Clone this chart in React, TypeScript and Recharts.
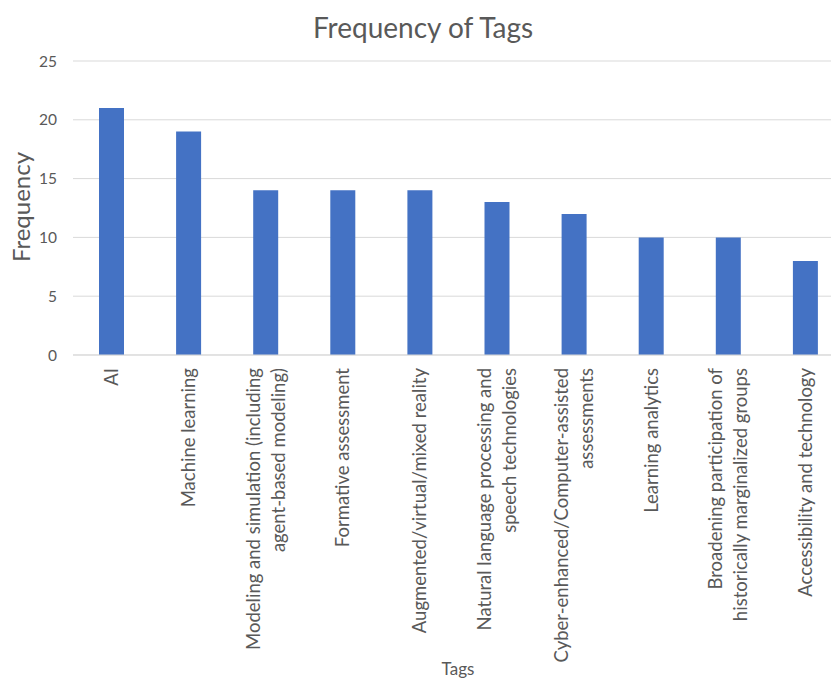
import React from 'react';
import { BarChart, Bar, XAxis, YAxis, CartesianGrid } from 'recharts';

const categories = [
  'AI',
  'Machine learning',
  'Modeling and simulation (including agent-based modeling)',
  'Formative assessment',
  'Augmented/virtual/mixed reality',
  'Natural language processing and speech technologies',
  'Cyber-enhanced/Computer-assisted assessments',
  'Learning analytics',
  'Broadening participation of historically marginalized groups',
  'Accessibility and technology',
];

const labelLines: string[][] = [
  ['AI'],
  ['Machine learning'],
  ['Modeling and simulation (including', 'agent-based modeling)'],
  ['Formative assessment'],
  ['Augmented/virtual/mixed reality'],
  ['Natural language processing and', 'speech technologies'],
  ['Cyber-enhanced/Computer-assisted', 'assessments'],
  ['Learning analytics'],
  ['Broadening participation of', 'historically marginalized groups'],
  ['Accessibility and technology'],
];

const frequencies = [21, 19, 14, 14, 14, 13, 12, 10, 10, 8];
const yTicks = [0, 5, 10, 15, 20, 25];

const data = categories.map((c, i) => ({ tag: c, freq: frequencies[i] }));

const FONT = 'Lato, "Open Sans", sans-serif';
const TEXT = '#595959';

const TagTick = (props: any) => {
  const { x, y, payload } = props;
  const lines = labelLines[payload.index] || [String(payload.value)];
  const lh = 25;
  return (
    <g transform={`translate(${x},${y})`}>
      <text transform="rotate(-90)" textAnchor="end" fill={TEXT} fontSize={18.5} fontFamily={FONT}>
        {lines.map((l, i) => (
          <tspan key={i} x={0} y={(i - (lines.length - 1) / 2) * lh} dy="0.35em">
            {l}
          </tspan>
        ))}
      </text>
    </g>
  );
};

export default function App() {
  return (
    <div
      style={{
        position: 'absolute',
        left: 0,
        top: 0,
        width: 831,
        height: 679,
        overflow: 'hidden',
        background: '#ffffff',
      }}
    >
      <BarChart
        width={860}
        height={679}
        data={data}
        margin={{ top: 61, right: 16, bottom: 0, left: 0 }}
      >
        <CartesianGrid vertical={false} stroke="#d9d9d9" strokeWidth={1} />
        <XAxis
          dataKey="tag"
          height={324}
          interval={0}
          tickLine={false}
          tickSize={0}
          tickMargin={13}
          axisLine={{ stroke: '#d9d9d9', strokeWidth: 1 }}
          tick={<TagTick />}
        />
        <YAxis
          width={73}
          domain={[0, 25]}
          ticks={yTicks}
          axisLine={false}
          tickLine={false}
          tickSize={0}
          tickMargin={16}
          tick={{ fill: TEXT, fontSize: 15.5, fontFamily: FONT }}
        />
        <Bar dataKey="freq" fill="#4472C4" barSize={25} isAnimationActive={false} />
        <text
          x={423}
          y={28}
          textAnchor="middle"
          dy="0.35em"
          fill={TEXT}
          fontSize={28}
          fontFamily={FONT}
        >
          Frequency of Tags
        </text>
        <text
          transform="translate(22,207) rotate(-90)"
          textAnchor="middle"
          dy="0.35em"
          fill={TEXT}
          fontSize={24}
          fontFamily={FONT}
        >
          Frequency
        </text>
        <text x={458} y={675} textAnchor="middle" fill={TEXT} fontSize={17} fontFamily={FONT}>
          Tags
        </text>
      </BarChart>
    </div>
  );
}
